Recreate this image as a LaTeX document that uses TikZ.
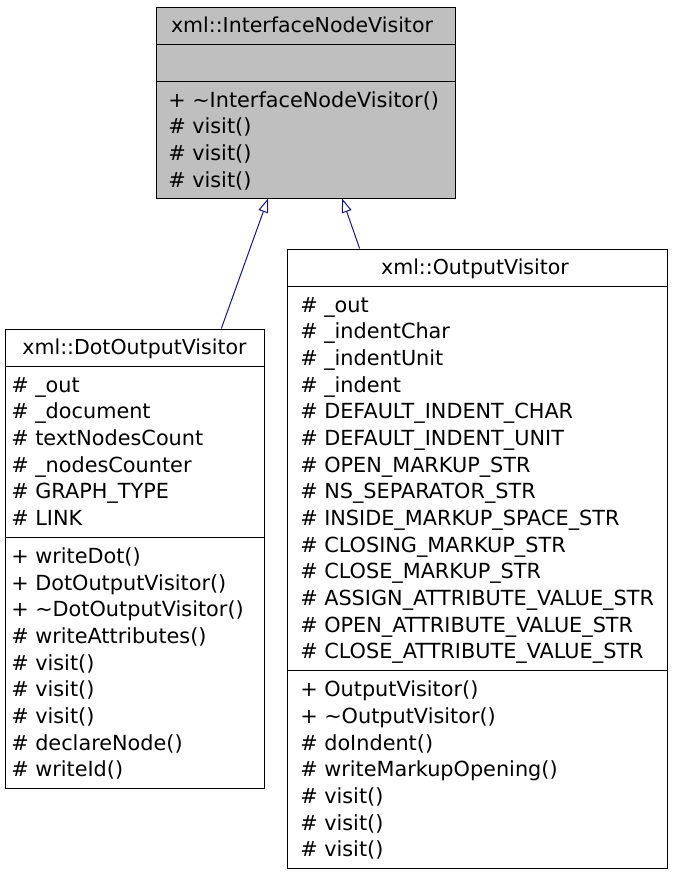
\documentclass[tikz,border=0pt]{standalone}
\usepackage{fontspec}
\setmainfont{DejaVu Sans}
\usetikzlibrary{arrows.meta,calc,fit}
\definecolor{edgeblue}{HTML}{191970}
\definecolor{basegray}{HTML}{BFBFBF}
\newcommand{\umlfont}{\fontsize{15.6pt}{20pt}\selectfont}
\newcommand{\umlnamefont}{\fontsize{15.4pt}{20pt}\selectfont}
\tikzset{
	classbox/.style={draw=black, line width=0.75pt, inner sep=0pt, fill=white},
	classname/.style={anchor=base, inner sep=0pt, font=\umlnamefont},
	member/.style={anchor=base west, inner sep=0pt, font=\umlfont},
	inherit/.style={draw=edgeblue, line width=0.75pt, -{Triangle[open,length=10.5pt,width=7.5pt]}},
}
\begin{document}
		\begin{tikzpicture}[x=0.75pt, y=-0.75pt]
			\fill[white] (0,0) rectangle (672,875);
			\useasboundingbox (0,0) rectangle (672,875);
			% base class
			\node[classbox, fill=basegray, fit={(156,7) (455,198)}] (ifc) {};
			\draw (156,44) -- (455,44);
			\draw (156,81) -- (455,81);
			\node[classname] (ifc-name) at (302,32) {xml::InterfaceNodeVisitor};
			\foreach \m [count=\k from 0] in {+ \textasciitilde InterfaceNodeVisitor(), \# visit(), \# visit(), \# visit()}{
				\node[member] (ifc-op-\k) at (168, 107+26.67*\k) {\m};
			}
			% dot output visitor
			\node[classbox, fit={(5,329) (264,788)}] (dov) {};
			\draw (5,366) -- (264,366);
			\draw (5,537.5) -- (264,537.5);
			\node[classname] (dov-name) at (134.5,354) {xml::DotOutputVisitor};
			\foreach \m [count=\k from 0] in {\# \_out, \# \_document, \# textNodesCount, \# \_nodesCounter, \# GRAPH\_TYPE, \# LINK}{
				\node[member] (dov-attr-\k) at (11, 392+26.67*\k) {\m};
			}
			\foreach \m [count=\k from 0] in {+ writeDot(), + DotOutputVisitor(), + \textasciitilde DotOutputVisitor(), \# writeAttributes(), \# visit(), \# visit(), \# visit(), \# declareNode(), \# writeId()}{
				\node[member] (dov-op-\k) at (11, 563.5+26.67*\k) {\m};
			}
			% output visitor
			\node[classbox, fit={(287,249) (667,868)}] (ov) {};
			\draw (287,286) -- (667,286);
			\draw (287,670.7) -- (667,670.7);
			\node[classname] (ov-name) at (475,274) {xml::OutputVisitor};
			\foreach \m [count=\k from 0] in {\# \_out, \# \_indentChar, \# \_indentUnit, \# \_indent, \# DEFAULT\_INDENT\_CHAR, \# DEFAULT\_INDENT\_UNIT, \# OPEN\_MARKUP\_STR, \# NS\_SEPARATOR\_STR, \# INSIDE\_MARKUP\_SPACE\_STR, \# CLOSING\_MARKUP\_STR, \# CLOSE\_MARKUP\_STR, \# ASSIGN\_ATTRIBUTE\_VALUE\_STR, \# OPEN\_ATTRIBUTE\_VALUE\_STR, \# CLOSE\_ATTRIBUTE\_VALUE\_STR}{
				\node[member] (ov-attr-\k) at (300, 312+26.67*\k) {\m};
			}
			\foreach \m [count=\k from 0] in {+ OutputVisitor(), + \textasciitilde OutputVisitor(), \# doIndent(), \# writeMarkupOpening(), \# visit(), \# visit(), \# visit()}{
				\node[member] (ov-op-\k) at (300, 696.7+26.67*\k) {\m};
			}
			% inheritance
			\draw[inherit] ($(dov.north west)!0.834!(dov.north east)$) -- ($(ifc.south west)!0.375!(ifc.south east)$);
			\draw[inherit] ($(ov.north west)!0.192!(ov.north east)$) -- ($(ifc.south west)!0.622!(ifc.south east)$);
		\end{tikzpicture}
\end{document}
